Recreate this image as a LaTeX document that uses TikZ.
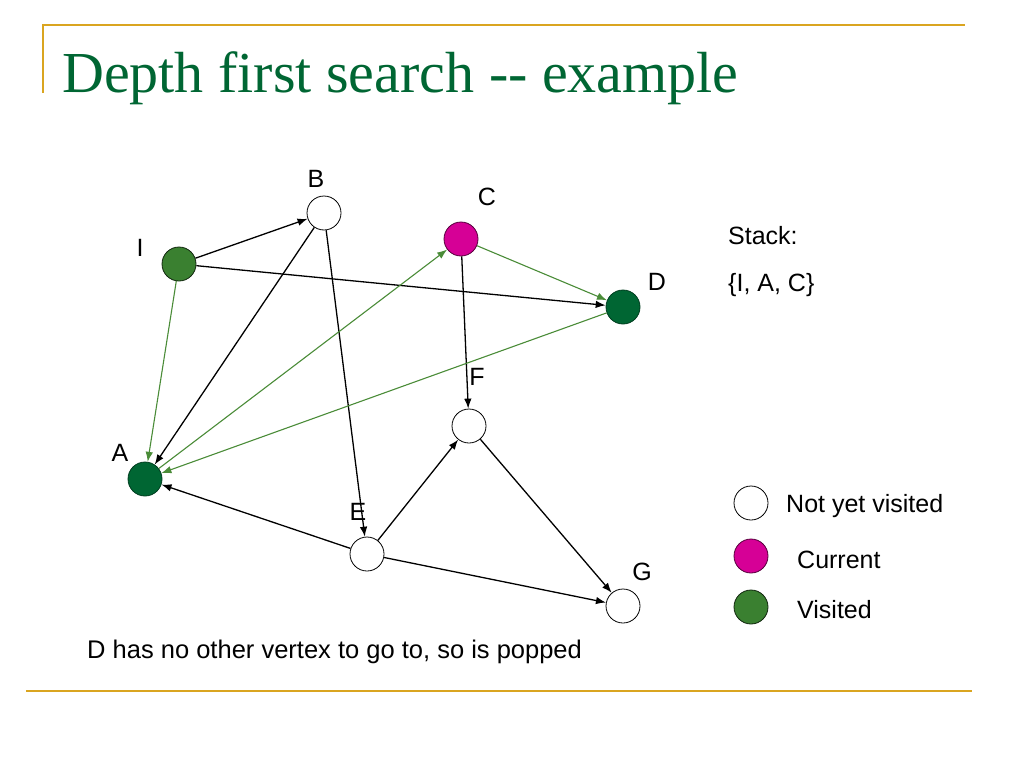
\documentclass[tikz,border=0pt]{standalone}
\usepackage{fontspec}
\setmainfont{Liberation Sans}
\newfontfamily\titlefont{Liberation Serif}
\usetikzlibrary{arrows.meta,positioning}

\definecolor{gold}{RGB}{218,165,32}
\definecolor{titlegreen}{RGB}{0,102,51}
\definecolor{darkgreen}{RGB}{0,102,51}
\definecolor{visitgreen}{RGB}{58,128,48}
\definecolor{currentpink}{RGB}{214,0,150}
\definecolor{edgegreen}{RGB}{74,140,56}

\begin{document}
\begin{tikzpicture}[x=1pt, y=-1pt,
        vertex/.style={circle, minimum size=34pt, inner sep=0pt, draw=black, line width=0.8pt},
        unvisited/.style={vertex, fill=white},
        current/.style={vertex, fill=currentpink, draw=black!60!currentpink},
        visited/.style={vertex, fill=visitgreen, draw=black!70!visitgreen},
        popped/.style={vertex, fill=darkgreen, draw=black!40!darkgreen},
        lbl/.style={inner sep=0pt, font=\fontsize{25}{30}\selectfont},
        edge/.style={line width=1.3pt, -{Latex[length=10pt,width=7.5pt]}},
        gedge/.style={edge, line width=1.1pt, draw=edgegreen, -{Latex[length=10pt,width=7.5pt,fill=edgegreen]}}]
        \useasboundingbox (0, 0) rectangle (1024, 768);
        \fill[white] (0, 0) rectangle (1024, 768);

        % slide frame
        \draw[gold, line width=2pt] (42, 25) -- (965, 25);
        \draw[gold, line width=2pt] (43, 25) -- (43, 93);
        \draw[gold, line width=2.5pt] (26, 691) -- (972, 691);
        \node[anchor=base west, inner sep=0pt, text=titlegreen, font=\titlefont\fontsize{58}{60}\selectfont]
                (title) at (62, 92) {Depth first search -{}- example};

        % vertices
        \node[visited] (I) at (179, 264) {};
        \node[unvisited] (B) at (324, 213) {};
        \node[current] (C) at (461, 239) {};
        \node[popped] (D) at (623, 307) {};
        \node[unvisited] (F) at (469, 426) {};
        \node[popped] (A) at (145, 479) {};
        \node[unvisited] (E) at (367, 554) {};
        \node[unvisited] (G) at (623, 606) {};

        \foreach \v/\px/\py in {I/140/248, B/316/179, C/487/197, D/657/282,
                                F/477/377, A/120/453, E/358/512, G/642/572}
                \node[lbl] (l\v) at (\px, \py) {\v};

        % edges
        \foreach \s/\t in {I/B, I/D, B/A, B/E, C/F, E/A, E/F, E/G, F/G}
                \draw[edge] (\s) -- (\t);
        \foreach \s/\t in {I/A, A/C, D/A, C/D}
                \draw[gedge] (\s) -- (\t);

        % stack
        \node[lbl, anchor=base west] (stack) at (728, 244) {Stack:};
        \node[lbl, anchor=base west] (stackval) at (728, 291) {\{I, A, C\}};

        % legend
        \node[unvisited] (leg1) at (751, 503) {};
        \node[current] (leg2) at (751, 556) {};
        \node[visited] (leg3) at (751, 607) {};
        \node[lbl, anchor=base west] (legt1) at (786, 512) {Not yet visited};
        \node[lbl, anchor=base west] (legt2) at (797, 568) {Current};
        \node[lbl, anchor=base west] (legt3) at (797, 618) {Visited};

        \node[lbl, anchor=base west, font=\fontsize{25.5}{30}\selectfont] (caption) at (87, 658)
                {D has no other vertex to go to, so is popped};
\end{tikzpicture}
\end{document}
